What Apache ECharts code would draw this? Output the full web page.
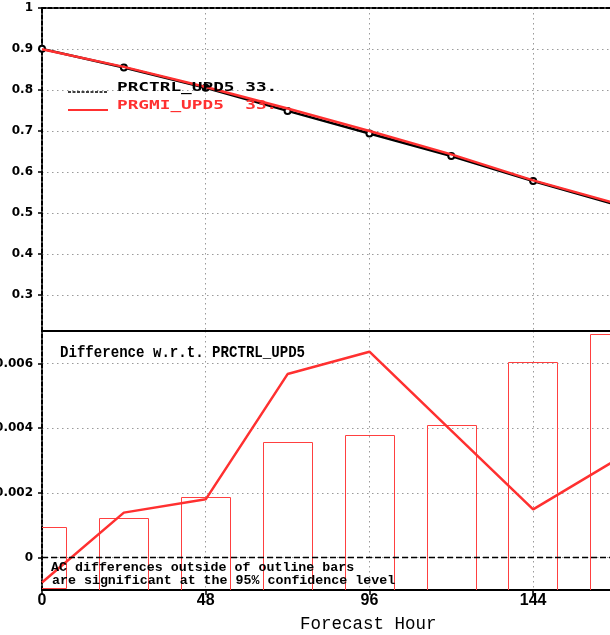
<!DOCTYPE html>
<html><head><meta charset="utf-8">
<script src="https://cdn.jsdelivr.net/npm/echarts@6/dist/echarts.min.js"></script>
<style>html,body{margin:0;padding:0;background:#fff}#c{width:610px;height:635px}</style>
</head><body><div id="c"></div>
<script>
// ---- data ----
const hours = [0, 24, 48, 72, 96, 120, 144, 168];
const seriesNames = ['PRCTRL_UPD5', 'PRGMI_UPD5'];
const legendScores = ['33.', '33.'];
const ctrlAC = [0.9003, 0.8550, 0.8055, 0.7490, 0.6937, 0.6390, 0.5780, 0.5210];
const gmiAC  = [0.8995, 0.8564, 0.8073, 0.7547, 0.7001, 0.6429, 0.5795, 0.5240];
const acDiff = [-0.00077, 0.00139, 0.00180, 0.00567, 0.00636, 0.00392, 0.00149, 0.00300];
const sigHalfWidth = [0.00094, 0.00123, 0.00188, 0.00357, 0.00378, 0.00411, 0.00604, 0.00692];
const xTicks = [0, 48, 96, 144];
const diffTitle = 'Difference w.r.t. PRCTRL_UPD5';
const noteLines = ['AC differences outside of outline bars', 'are significant at the 95% confidence level'];
const xTitle = 'Forecast Hour';

// ---- styles ----
const RED = '#ff3030';
const BAR_RED = '#ff4040';
const GRID_LINE = { show: true, lineStyle: { color: '#9a9a9a', type: [1.5, 3.5], width: 1 } };
const BAR_HALF = 7.25; // hours

const chart = echarts.init(document.getElementById('c'), null, { renderer: 'canvas' });

const yLabelStyle = { color: '#000', fontFamily: 'DejaVu Sans', fontWeight: 'bold', fontSize: 12, margin: 9 };

const option = {
  animation: false,
  backgroundColor: '#fff',
  grid: [
    { left: 42, right: -5, top: 8, height: 323, outerBoundsMode: 'none', containLabel: false },
    { left: 42, right: -5, top: 331, height: 259, outerBoundsMode: 'none', containLabel: false }
  ],
  xAxis: [
    { gridIndex: 0, type: 'value', min: 0, max: 168, interval: 48, position: 'bottom',
      axisLine: { show: true, onZero: false, lineStyle: { color: '#000', width: 2 } },
      axisTick: { show: false }, axisLabel: { show: false }, splitLine: GRID_LINE },
    { gridIndex: 0, type: 'value', min: 0, max: 168, interval: 48, position: 'top',
      axisLine: { show: true, onZero: false, lineStyle: { color: '#000', width: 2, type: [4, 2] } },
      axisTick: { show: false }, axisLabel: { show: false }, splitLine: { show: false } },
    { gridIndex: 1, type: 'value', min: 0, max: 168, interval: 48, position: 'bottom',
      axisLine: { show: true, onZero: false, lineStyle: { color: '#000', width: 2 } },
      axisTick: { show: true, length: 5, lineStyle: { color: '#000', width: 1.5 } },
      axisLabel: { show: true, color: '#000', fontFamily: 'Liberation Sans', fontWeight: 'bold', fontSize: 16, margin: 3,
        showMaxLabel: false,
        formatter: v => xTicks.indexOf(v) >= 0 ? String(v) : '' },
      splitLine: GRID_LINE }
  ],
  yAxis: [
    { gridIndex: 0, type: 'value', min: 0.212, max: 1, splitNumber: 8,
      axisLine: { show: true, onZero: false, lineStyle: { color: '#000', width: 2, type: [4, 2] } },
      axisTick: { show: true, length: 4, lineStyle: { color: '#000', width: 1.5 } },
      axisLabel: Object.assign({ showMinLabel: false, showMaxLabel: true,
        formatter: v => String(Math.round(v * 10) / 10) }, yLabelStyle),
      splitLine: GRID_LINE },
    { gridIndex: 1, type: 'value', min: -0.001, max: 0.007, splitNumber: 4,
      axisLine: { show: true, onZero: false, lineStyle: { color: '#000', width: 2, type: [4, 2] } },
      axisTick: { show: true, length: 4, lineStyle: { color: '#000', width: 1.5 } },
      axisLabel: Object.assign({ showMinLabel: false, showMaxLabel: false,
        formatter: v => String(Math.round(v * 1000) / 1000) }, yLabelStyle),
      splitLine: GRID_LINE }
  ],
  series: [
    { name: seriesNames[0], type: 'line', xAxisIndex: 0, yAxisIndex: 0,
      data: hours.map((h, i) => [h, ctrlAC[i]]),
      lineStyle: { color: '#000', width: 2.5 },
      symbol: 'emptyCircle', symbolSize: 6,
      itemStyle: { color: '#000', borderColor: '#000', borderWidth: 2 }, z: 3 },
    { name: seriesNames[1], type: 'line', xAxisIndex: 0, yAxisIndex: 0,
      data: hours.map((h, i) => [h, gmiAC[i]]),
      lineStyle: { color: RED, width: 2.5 }, symbol: 'none', z: 4 },
    { name: 'significance', type: 'custom', xAxisIndex: 2, yAxisIndex: 1, clip: true, silent: true,
      itemStyle: { color: BAR_RED, borderColor: BAR_RED },
      emphasis: { disabled: true },
      data: hours.map((h, i) => [h, sigHalfWidth[i]]),
      renderItem: (params, api) => {
        const x = api.value(0), v = api.value(1);
        const p1 = api.coord([x - BAR_HALF, v]);
        const p2 = api.coord([x + BAR_HALF, -v]);
        return { type: 'rect',
          shape: { x: Math.round(p1[0]) + 0.5, y: Math.round(p1[1]) + 0.5,
                   width: Math.round(p2[0] - p1[0]), height: Math.round(p2[1] - p1[1]) },
          style: { fill: 'none', stroke: BAR_RED, lineWidth: 1 } };
      }, z: 2 },
    { name: 'diff', type: 'line', xAxisIndex: 2, yAxisIndex: 1,
      data: hours.map((h, i) => [h, acDiff[i]]),
      lineStyle: { color: RED, width: 2.5 }, symbol: 'none', z: 4,
      markLine: { silent: true, symbol: 'none', label: { show: false },
        lineStyle: { color: '#000', width: 1.3, type: [6, 3] },
        data: [{ yAxis: 0 }] } }
  ],
  graphic: [
    { type: 'line', shape: { x1: 68, y1: 92, x2: 108, y2: 92 }, z: 10,
      style: { stroke: '#000', lineWidth: 1.5, lineDash: [3, 1.5] } },
    { type: 'line', shape: { x1: 68, y1: 110, x2: 108, y2: 110 }, z: 10,
      style: { stroke: RED, lineWidth: 2 } },
    { type: 'text', x: 117, y: 88, scaleX: 1.42, z: 10,
      style: { text: seriesNames[0] + ' ' + legendScores[0], fill: '#000',
        font: 'bold 12.5px "DejaVu Sans Mono"', textVerticalAlign: 'middle' } },
    { type: 'text', x: 117, y: 106, scaleX: 1.42, z: 10,
      style: { text: seriesNames[1] + '  ' + legendScores[1], fill: RED,
        font: 'bold 12.5px "DejaVu Sans Mono"', textVerticalAlign: 'middle' } },
    { type: 'text', x: 60, y: 353, scaleX: 0.88, z: 10,
      style: { text: diffTitle, fill: '#000', font: 'bold 16px "Liberation Mono"', textVerticalAlign: 'middle' } },
    { type: 'text', x: 51, y: 568, z: 10,
      style: { text: noteLines[0], fill: '#000', font: 'bold 13.3px "Liberation Mono"', textVerticalAlign: 'middle' } },
    { type: 'text', x: 52, y: 581, z: 10,
      style: { text: noteLines[1], fill: '#000', font: 'bold 13.3px "Liberation Mono"', textVerticalAlign: 'middle' } },
    { type: 'text', x: 300, y: 624, z: 10,
      style: { text: xTitle, fill: '#000', font: '17.5px "Liberation Mono"', textVerticalAlign: 'middle' } }
  ]
};
chart.setOption(option);
</script>
</body></html>
